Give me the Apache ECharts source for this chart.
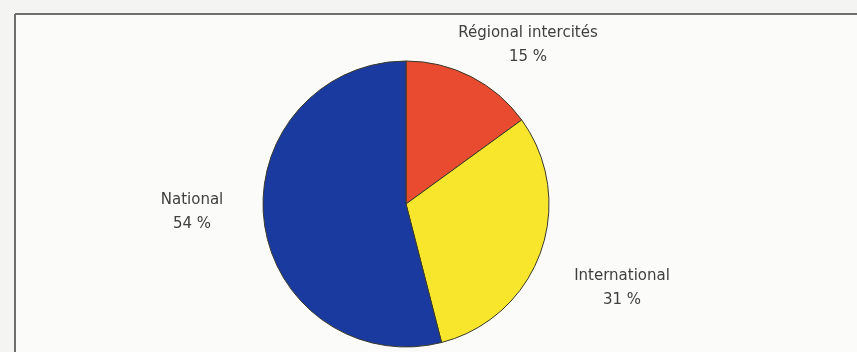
<!DOCTYPE html>
<html>
<head>
<meta charset="utf-8">
<script src="https://cdn.jsdelivr.net/npm/echarts@6/dist/echarts.min.js"></script>
<style>
html,body{margin:0;padding:0;background:#f4f4f3;}
#chart{width:857px;height:352px;}
</style>
</head>
<body>
<div id="chart"></div>
<script>
const categories = ['Régional intercités', 'International', 'National'];
const values = [15, 31, 54];
const sliceColors = ['#e94b30', '#f8e62c', '#1b3a9f'];
// label anchor positions (centre of each two-line label)
const labelPos = [[528, 45], [622, 288], [192, 212]];

const chart = echarts.init(document.getElementById('chart'));
chart.setOption({
  backgroundColor: '#f4f4f3',
  animation: false,
  graphic: [
    { type: 'rect', shape: { x: 15, y: 14, width: 842, height: 338 }, style: { fill: '#fbfbfa' }, z: -10 },
    { type: 'line', shape: { x1: 15, y1: 14, x2: 857, y2: 14 }, style: { stroke: '#6e6e6e', lineWidth: 2 }, z: -5 },
    { type: 'line', shape: { x1: 15, y1: 14, x2: 15, y2: 352 }, style: { stroke: '#6e6e6e', lineWidth: 2 }, z: -5 }
  ],
  series: [{
    type: 'pie',
    center: [406, 204],
    radius: 143,
    startAngle: 90,
    clockwise: true,
    silent: true,
    data: categories.map((c, i) => ({ name: c, value: values[i], itemStyle: { color: sliceColors[i] } })),
    itemStyle: { borderColor: '#3a3a2a', borderWidth: 1 },
    label: {
      show: true,
      position: 'outside',
      formatter: '{b}\n{c} %',
      fontFamily: 'DejaVu Sans',
      fontSize: 15,
      color: '#404040',
      lineHeight: 24,
      align: 'center'
    },
    labelLine: { show: false },
    labelLayout: function (params) {
      const p = labelPos[params.dataIndex];
      return { x: p[0], y: p[1], align: 'center', verticalAlign: 'middle' };
    }
  }]
});
</script>
</body>
</html>
